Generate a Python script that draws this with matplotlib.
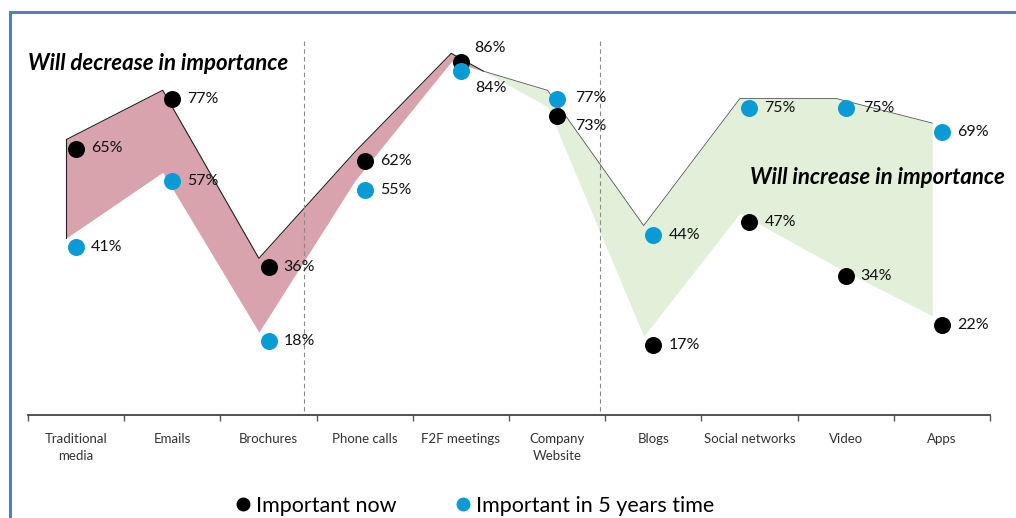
import numpy as np
from matplotlib import pyplot as plt
from matplotlib.lines import Line2D
from matplotlib.patches import Rectangle

plt.rcParams['font.family'] = ['Lato', 'DejaVu Sans']

categories = ['Traditional\nmedia', 'Emails', 'Brochures', 'Phone calls', 'F2F meetings',
              'Company\nWebsite', 'Blogs', 'Social networks', 'Video', 'Apps']
now = [65, 77, 36, 62, 86, 73, 17, 47, 34, 22]
future = [41, 57, 18, 55, 84, 77, 44, 75, 75, 69]

# label offsets in pixels (x, y) for each point; default is to the right of the dot
now_offsets = {4: (13, 14), 5: (18, -10)}
future_offsets = {4: (14, -17), 5: (18, 1), 8: (17, 0)}

PINK = '#D9A3AE'
GREEN = '#E2F0D9'
BLUE = '#0A9BD7'

W, H = 1016, 518
fig = plt.figure(figsize=(W / 100, H / 100), dpi=100)
ax = fig.add_axes([28 / W, (H - 415) / H, 962 / W, 410 / H])

x = np.arange(len(categories))
now_a = np.array(now, dtype=float)
fut_a = np.array(future, dtype=float)

# the shaded band sits a little left and up from the dots (as in the original)
dx, dy = -0.1, 2.2
xb = x + dx
ax.fill_between(xb, now_a + dy, fut_a + dy, where=now_a >= fut_a, interpolate=True,
                color=PINK, lw=0, zorder=1)
ax.fill_between(xb, now_a + dy, fut_a + dy, where=now_a <= fut_a, interpolate=True,
                color=GREEN, lw=0, zorder=1)

# upper edge of the band with crossing points
ex, ey = [xb[0]], [max(now_a[0], fut_a[0]) + dy]
for i in range(len(x) - 1):
    d0 = now_a[i] - fut_a[i]
    d1 = now_a[i + 1] - fut_a[i + 1]
    if d0 * d1 < 0:
        t = d0 / (d0 - d1)
        ex.append(xb[i] + t)
        ey.append(now_a[i] + t * (now_a[i + 1] - now_a[i]) + dy)
    ex.append(xb[i + 1])
    ey.append(max(now_a[i + 1], fut_a[i + 1]) + dy)
split = next(i for i, v in enumerate(ex) if v > xb[4] and v < xb[5]) + 1
ax.plot(ex[:split], ey[:split], color='#222222', lw=0.8, zorder=2)
ax.plot(ex[split - 1:], ey[split - 1:], color='#555555', lw=0.6, zorder=2)
ax.plot([xb[0], xb[0]], [now_a[0] + dy, fut_a[0] + dy], color='#222222', lw=0.8, zorder=2)

# dashed separators
for xs in (2.37, 5.45):
    ax.plot([xs, xs], [1, 91.5], color='#888888', lw=0.8, ls=(0, (4, 3)), zorder=3)

ax.scatter(x, now_a, s=150, color='black', zorder=4, linewidths=0)
ax.scatter(x, fut_a, s=150, color=BLUE, zorder=4, linewidths=0)

for i in range(len(x)):
    ox, oy = now_offsets.get(i, (15, 0))
    ax.annotate(f'{now[i]}%', (x[i], now_a[i]), xytext=(ox, oy), textcoords='offset pixels',
                ha='left', va='center', fontsize=11.5, color='#111111', zorder=5)
    ox, oy = future_offsets.get(i, (15, 0))
    ax.annotate(f'{future[i]}%', (x[i], fut_a[i]), xytext=(ox, oy), textcoords='offset pixels',
                ha='left', va='center', fontsize=11.5, color='#111111', zorder=5)

fig.text(28 / W, 1 - 63 / H, 'Will decrease in importance', fontsize=16,
         fontweight='bold', style='italic', ha='left', va='center')
fig.text(1005 / W, 1 - 178 / H, 'Will increase in importance', fontsize=16,
         fontweight='bold', style='italic', ha='right', va='center')

ax.set_xlim(-0.5, len(categories) - 0.5)
ax.set_ylim(0, 100)
ax.set_xticks(x)
ax.set_xticklabels(categories, fontsize=9.5, color='#333333', linespacing=1.45)
ax.set_xticks(np.arange(-0.5, len(categories)), minor=True)
ax.tick_params(axis='x', which='major', length=0, pad=13)
ax.tick_params(axis='x', which='minor', length=4, width=1, color='#555555', direction='out')
ax.set_yticks([])
for s in ('top', 'right', 'left'):
    ax.spines[s].set_visible(False)
ax.spines['bottom'].set_color('#444444')
ax.spines['bottom'].set_linewidth(1.3)

handles = [Line2D([], [], marker='o', ls='', color='black', markersize=9),
           Line2D([], [], marker='o', ls='', color=BLUE, markersize=9)]
fig.legend(handles, ['Important now', 'Important in 5 years time'], loc='center',
           bbox_to_anchor=(473 / W, 1 - 506 / H), ncol=2, frameon=False, fontsize=15.5,
           handletextpad=0.1, columnspacing=2.6, handlelength=1.0)

fig.patches.append(Rectangle((10 / W, -0.2), 1.2, 1 - 12 / H + 0.2, transform=fig.transFigure,
                             fill=False, edgecolor='#4F81BD', lw=2.2, zorder=0))

fig.savefig('out.png', dpi=100)
